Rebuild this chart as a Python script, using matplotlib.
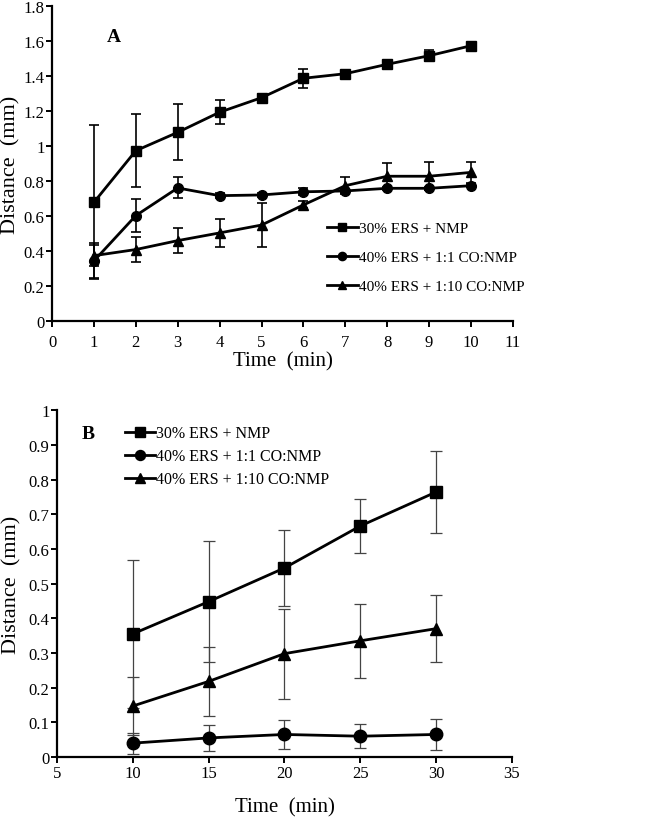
import numpy as np
import matplotlib
matplotlib.use('Agg')
import matplotlib.pyplot as plt

plt.rcParams['font.family'] = ['Liberation Serif', 'DejaVu Serif']

labels = ['30% ERS + NMP', '40% ERS + 1:1 CO:NMP', '40% ERS + 1:10 CO:NMP']
markers = ['s', 'o', '^']

# Panel A
time_a = [1, 2, 3, 4, 5, 6, 7, 8, 9, 10]
ers30_a = [0.68, 0.975, 1.08, 1.195, 1.278, 1.389, 1.415, 1.469, 1.518, 1.575]
ers30_a_err = [0.44, 0.21, 0.16, 0.07, 0.02, 0.055, 0.01, 0.01, 0.03, 0.01]
co11_a = [0.345, 0.604, 0.762, 0.718, 0.722, 0.74, 0.745, 0.76, 0.76, 0.775]
co11_a_err = [0.1, 0.095, 0.06, 0.015, 0.01, 0.02, 0.01, 0.01, 0.01, 0.01]
co110_a = [0.375, 0.41, 0.461, 0.505, 0.55, 0.665, 0.775, 0.829, 0.829, 0.851]
co110_a_err = [0.06, 0.07, 0.07, 0.08, 0.125, 0.02, 0.05, 0.075, 0.08, 0.06]

# Panel B
time_b = [10, 15, 20, 25, 30]
ers30_b = [0.355, 0.448, 0.545, 0.666, 0.764]
ers30_b_err = [0.213, 0.175, 0.11, 0.078, 0.118]
co11_b = [0.04, 0.055, 0.065, 0.06, 0.065]
co11_b_err = [0.03, 0.038, 0.043, 0.035, 0.045]
co110_b = [0.147, 0.218, 0.298, 0.335, 0.37]
co110_b_err = [0.083, 0.1, 0.13, 0.107, 0.096]

fig = plt.figure(figsize=(6.67, 8.2), dpi=100)
ax_a = fig.add_axes([0.078, 0.607, 0.691, 0.384])
ax_b = fig.add_axes([0.0855, 0.0756, 0.682, 0.423])


def style_axis(ax, xpad, ylab_x, xlab_y):
    for side in ['top', 'right']:
        ax.spines[side].set_visible(False)
    for side in ['left', 'bottom']:
        ax.spines[side].set_linewidth(1.6)
    ax.tick_params(direction='out', width=1.4, length=4, labelsize=12)
    ax.tick_params(axis='x', pad=xpad)
    ax.tick_params(axis='y', pad=1.5)
    ax.set_ylabel('Distance  (mm)', fontsize=16)
    ax.set_xlabel('Time  (min)', fontsize=15)
    ax.yaxis.set_label_coords(ylab_x, 0.5)
    ax.yaxis.label.set_va('center')
    ax.xaxis.set_label_coords(0.5, xlab_y)
    ax.xaxis.label.set_va('center')


series_a = [(ers30_a, ers30_a_err), (co11_a, co11_a_err), (co110_a, co110_a_err)]
for (vals, errs), m, lab in zip(series_a, markers, labels):
    ax_a.errorbar(time_a, vals, yerr=errs, fmt='none', ecolor='black',
                  elinewidth=1.2, capsize=3.5, capthick=1.2)
    ax_a.plot(time_a, vals, color='black', marker=m, markersize=7, linewidth=2, label=lab)
ax_a.set_xlim(0, 11)
ax_a.set_ylim(0, 1.8)
ax_a.set_xticks(np.arange(0, 12, 1))
ax_a.set_yticks(np.arange(0, 1.81, 0.2))
ax_a.set_yticklabels(['0', '0.2', '0.4', '0.6', '0.8', '1', '1.2', '1.4', '1.6', '1.8'])
style_axis(ax_a, 5, -0.09, -0.127)
ax_a.text(1.3, 1.6, 'A', fontsize=14, fontweight='bold')
ax_a.legend(loc='center left', bbox_to_anchor=(0.597, 0.203), frameon=False, fontsize=11,
            handlelength=2.0, handletextpad=0.05, labelspacing=1.0, borderpad=0,
            borderaxespad=0, markerscale=0.85)

series_b = [(ers30_b, ers30_b_err), (co11_b, co11_b_err), (co110_b, co110_b_err)]
for (vals, errs), m, lab in zip(series_b, markers, labels):
    ax_b.errorbar(time_b, vals, yerr=errs, fmt='none', ecolor='#444444',
                  elinewidth=0.9, capsize=4, capthick=0.9)
    ax_b.plot(time_b, vals, color='black', marker=m, markersize=9, linewidth=2, label=lab)
ax_b.set_xlim(5, 35)
ax_b.set_ylim(0, 1)
ax_b.set_xticks(np.arange(5, 36, 5))
ax_b.set_yticks(np.arange(0, 1.01, 0.1))
ax_b.set_yticklabels(['0', '0.1', '0.2', '0.3', '0.4', '0.5', '0.6', '0.7', '0.8', '0.9', '1'])
style_axis(ax_b, 2, -0.1, -0.144)
ax_b.text(6.6, 0.92, 'B', fontsize=14, fontweight='bold')
ax_b.legend(loc='center left', bbox_to_anchor=(0.149, 0.867), frameon=False, fontsize=11.5,
            handlelength=1.9, handletextpad=0.05, labelspacing=0.45, borderpad=0,
            borderaxespad=0, markerscale=0.8)

fig.savefig('out.png', dpi=100)
